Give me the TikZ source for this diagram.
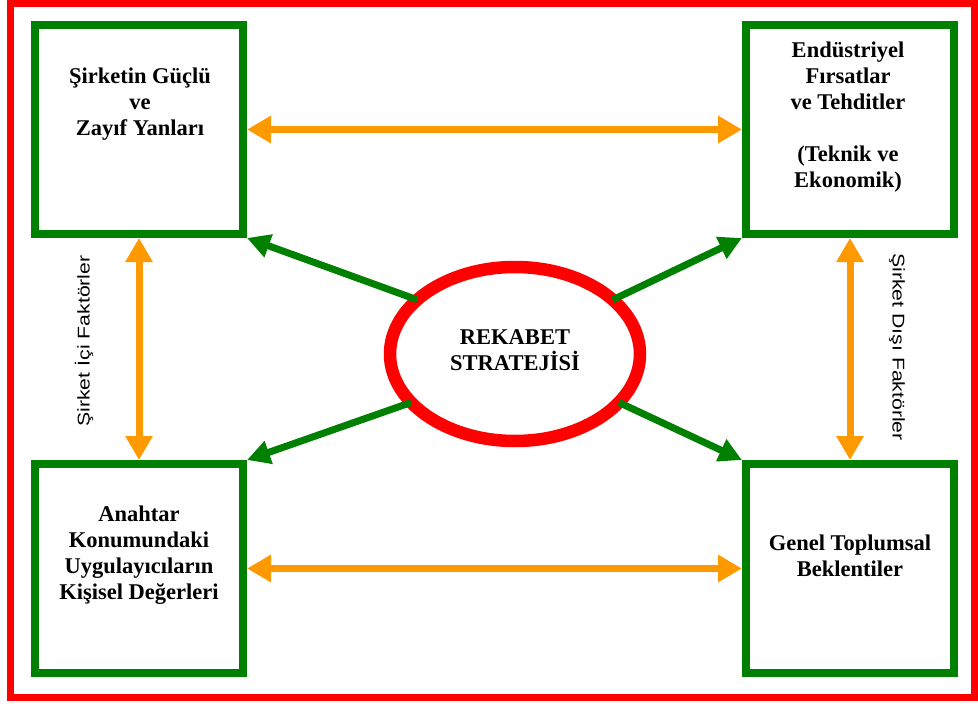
\documentclass[tikz,border=0pt]{standalone}
\usepackage{fontspec}
\setmainfont{Liberation Serif}
\newfontfamily\sidefont[FakeStretch=1.25]{Liberation Sans}
\usetikzlibrary{arrows.meta,shapes.geometric}
\definecolor{boxgreen}{RGB}{0,128,0}
\definecolor{framered}{RGB}{255,0,0}
\definecolor{linkorange}{RGB}{255,153,0}
\begin{document}
\begin{tikzpicture}[x=1pt,y=-1pt,
  panel/.style={draw=boxgreen, line width=8pt, minimum width=208pt,
    minimum height=209pt, inner sep=0pt},
  core/.style={draw=framered, line width=12.5pt, ellipse, minimum width=250pt,
    minimum height=174pt, inner sep=0pt, outer sep=0pt},
  label/.style={font=\fontsize{22.5}{26}\selectfont\bfseries, align=center,
    inner sep=0pt},
  sidelabel/.style={font=\sidefont\fontsize{17}{20}\selectfont, inner sep=0pt},
  pairlink/.style={draw=linkorange, line width=7pt,
    {Triangle[length=24pt,width=26pt]}-{Triangle[length=24pt,width=26pt]}},
  outlink/.style={draw=boxgreen, line width=7pt,
    -{Triangle[length=23pt,width=23pt]}},
]
\useasboundingbox (0,0) rectangle (978,704);

% outer frame
\draw[framered, line width=7pt] (10,3.5) rectangle (974.5,697.5);

% the four factor panels and the central strategy
\node[panel] (tl) at (139,129.5) {};
\node[panel] (tr) at (850,129.5) {};
\node[panel] (bl) at (139,568.5) {};
\node[panel] (br) at (850,568.5) {};
\node[core] (strategy) at (515,354) {};

% panel texts
\node[label] (tltext) at (140,104) {Şirketin Güçlü\\ve\\Zayıf Yanları};
\node[label] (trtext) at (848,117.5) {Endüstriyel\\Fırsatlar\\ve Tehditler\\[26pt](Teknik ve\\Ekonomik)};
\node[label] (bltext) at (139,555.5) {Anahtar\\Konumundaki\\Uygulayıcıların\\Kişisel Değerleri};
\node[label] (brtext) at (850,556) {Genel Toplumsal\\Beklentiler};
\node[label] (coretext) at (515,350.5) {REKABET\\STRATEJİSİ};

% side captions
\node[sidelabel, rotate=90] (inside) at (84,341) {Şirket İçi Faktörler};
\node[sidelabel, rotate=-90] (outside) at (897,347) {Şirket Dışı Faktörler};

% mutual links between panels
\draw[pairlink] (tl.east) -- (tr.west);
\draw[pairlink] (bl.east) -- (br.west);
\draw[pairlink] (tl.south) -- (bl.north);
\draw[pairlink] (tr.south) -- (br.north);

% links from the strategy to each panel
\draw[outlink] (strategy.151) -- (tl.south east);
\draw[outlink] (strategy.29) -- (tr.south west);
\draw[outlink] (strategy.205) -- (bl.north east);
\draw[outlink] (strategy.335) -- (br.north west);
\end{tikzpicture}
\end{document}
